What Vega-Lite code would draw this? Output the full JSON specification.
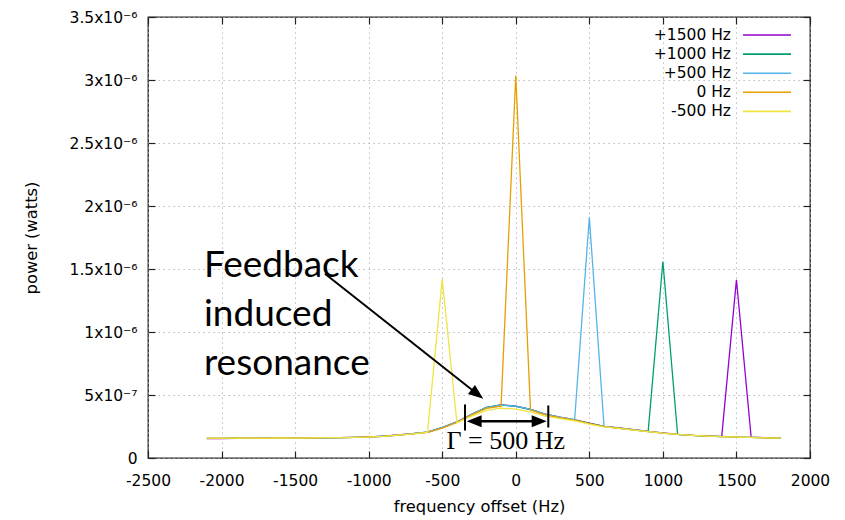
{
  "$schema": "https://vega.github.io/schema/vega-lite/v6.json",
  "width": 662,
  "height": 441,
  "autosize": {"type": "none"},
  "padding": {"left": 148, "top": 17, "right": 35, "bottom": 62},
  "background": "white",
  "config": {
    "font": "DejaVu Sans",
    "view": {"stroke": "#222", "strokeWidth": 1.3},
    "axis": {
      "labelFont": "DejaVu Sans", "labelFontSize": 15.5, "labelColor": "#000", "labelFlush": false, "labelOverlap": false,
      "titleFont": "DejaVu Sans", "titleFontSize": 16.3, "titleFontWeight": "normal", "titleColor": "#000",
      "tickColor": "#222", "tickWidth": 1.2, "tickSize": -7,
      "gridColor": "#aaaaaa", "gridDash": [1.2, 3.8], "gridWidth": 1, "domain": false
    }
  },
  "datasets": {
    "power": [
      {"s":"+1500 Hz","f":-2100,"p":1.53e-7},{"s":"+1500 Hz","f":-2000,"p":1.54e-7},{"s":"+1500 Hz","f":-1900,"p":1.55e-7},{"s":"+1500 Hz","f":-1800,"p":1.56e-7},{"s":"+1500 Hz","f":-1700,"p":1.57e-7},{"s":"+1500 Hz","f":-1600,"p":1.56e-7},{"s":"+1500 Hz","f":-1500,"p":1.58e-7},{"s":"+1500 Hz","f":-1400,"p":1.59e-7},{"s":"+1500 Hz","f":-1300,"p":1.59e-7},{"s":"+1500 Hz","f":-1200,"p":1.62e-7},{"s":"+1500 Hz","f":-1100,"p":1.64e-7},{"s":"+1500 Hz","f":-1000,"p":1.67e-7},{"s":"+1500 Hz","f":-900,"p":1.73e-7},{"s":"+1500 Hz","f":-800,"p":1.83e-7},{"s":"+1500 Hz","f":-700,"p":1.94e-7},{"s":"+1500 Hz","f":-600,"p":2.06e-7},{"s":"+1500 Hz","f":-500,"p":2.41e-7},{"s":"+1500 Hz","f":-400,"p":2.87e-7},{"s":"+1500 Hz","f":-300,"p":3.47e-7},{"s":"+1500 Hz","f":-200,"p":4.00e-7},{"s":"+1500 Hz","f":-100,"p":4.22e-7},{"s":"+1500 Hz","f":0,"p":4.12e-7},{"s":"+1500 Hz","f":100,"p":3.86e-7},{"s":"+1500 Hz","f":200,"p":3.48e-7},{"s":"+1500 Hz","f":300,"p":3.24e-7},{"s":"+1500 Hz","f":400,"p":3.03e-7},{"s":"+1500 Hz","f":500,"p":2.76e-7},{"s":"+1500 Hz","f":600,"p":2.51e-7},{"s":"+1500 Hz","f":700,"p":2.38e-7},{"s":"+1500 Hz","f":800,"p":2.25e-7},{"s":"+1500 Hz","f":900,"p":2.12e-7},{"s":"+1500 Hz","f":1000,"p":1.99e-7},{"s":"+1500 Hz","f":1100,"p":1.88e-7},{"s":"+1500 Hz","f":1200,"p":1.80e-7},{"s":"+1500 Hz","f":1300,"p":1.75e-7},{"s":"+1500 Hz","f":1400,"p":1.70e-7},{"s":"+1500 Hz","f":1500,"p":1.415e-6},{"s":"+1500 Hz","f":1600,"p":1.65e-7},{"s":"+1500 Hz","f":1700,"p":1.61e-7},{"s":"+1500 Hz","f":1800,"p":1.58e-7},
      {"s":"+1000 Hz","f":-2100,"p":1.56e-7},{"s":"+1000 Hz","f":-2000,"p":1.55e-7},{"s":"+1000 Hz","f":-1900,"p":1.57e-7},{"s":"+1000 Hz","f":-1800,"p":1.56e-7},{"s":"+1000 Hz","f":-1700,"p":1.57e-7},{"s":"+1000 Hz","f":-1600,"p":1.58e-7},{"s":"+1000 Hz","f":-1500,"p":1.57e-7},{"s":"+1000 Hz","f":-1400,"p":1.58e-7},{"s":"+1000 Hz","f":-1300,"p":1.61e-7},{"s":"+1000 Hz","f":-1200,"p":1.61e-7},{"s":"+1000 Hz","f":-1100,"p":1.64e-7},{"s":"+1000 Hz","f":-1000,"p":1.66e-7},{"s":"+1000 Hz","f":-900,"p":1.73e-7},{"s":"+1000 Hz","f":-800,"p":1.82e-7},{"s":"+1000 Hz","f":-700,"p":1.94e-7},{"s":"+1000 Hz","f":-600,"p":2.06e-7},{"s":"+1000 Hz","f":-500,"p":2.42e-7},{"s":"+1000 Hz","f":-400,"p":2.86e-7},{"s":"+1000 Hz","f":-300,"p":3.46e-7},{"s":"+1000 Hz","f":-200,"p":4.01e-7},{"s":"+1000 Hz","f":-100,"p":4.21e-7},{"s":"+1000 Hz","f":0,"p":4.10e-7},{"s":"+1000 Hz","f":100,"p":3.85e-7},{"s":"+1000 Hz","f":200,"p":3.47e-7},{"s":"+1000 Hz","f":300,"p":3.23e-7},{"s":"+1000 Hz","f":400,"p":3.03e-7},{"s":"+1000 Hz","f":500,"p":2.75e-7},{"s":"+1000 Hz","f":600,"p":2.51e-7},{"s":"+1000 Hz","f":700,"p":2.37e-7},{"s":"+1000 Hz","f":800,"p":2.24e-7},{"s":"+1000 Hz","f":900,"p":2.11e-7},{"s":"+1000 Hz","f":1000,"p":1.56e-6},{"s":"+1000 Hz","f":1100,"p":1.87e-7},{"s":"+1000 Hz","f":1200,"p":1.80e-7},{"s":"+1000 Hz","f":1300,"p":1.74e-7},{"s":"+1000 Hz","f":1400,"p":1.71e-7},{"s":"+1000 Hz","f":1500,"p":1.66e-7},{"s":"+1000 Hz","f":1600,"p":1.64e-7},{"s":"+1000 Hz","f":1700,"p":1.61e-7},{"s":"+1000 Hz","f":1800,"p":1.57e-7},
      {"s":"+500 Hz","f":-2100,"p":1.55e-7},{"s":"+500 Hz","f":-2000,"p":1.56e-7},{"s":"+500 Hz","f":-1900,"p":1.56e-7},{"s":"+500 Hz","f":-1800,"p":1.57e-7},{"s":"+500 Hz","f":-1700,"p":1.58e-7},{"s":"+500 Hz","f":-1600,"p":1.57e-7},{"s":"+500 Hz","f":-1500,"p":1.58e-7},{"s":"+500 Hz","f":-1400,"p":1.59e-7},{"s":"+500 Hz","f":-1300,"p":1.60e-7},{"s":"+500 Hz","f":-1200,"p":1.62e-7},{"s":"+500 Hz","f":-1100,"p":1.63e-7},{"s":"+500 Hz","f":-1000,"p":1.67e-7},{"s":"+500 Hz","f":-900,"p":1.72e-7},{"s":"+500 Hz","f":-800,"p":1.82e-7},{"s":"+500 Hz","f":-700,"p":1.93e-7},{"s":"+500 Hz","f":-600,"p":2.05e-7},{"s":"+500 Hz","f":-500,"p":2.41e-7},{"s":"+500 Hz","f":-400,"p":2.86e-7},{"s":"+500 Hz","f":-300,"p":3.46e-7},{"s":"+500 Hz","f":-200,"p":3.99e-7},{"s":"+500 Hz","f":-100,"p":4.20e-7},{"s":"+500 Hz","f":0,"p":4.11e-7},{"s":"+500 Hz","f":100,"p":3.86e-7},{"s":"+500 Hz","f":200,"p":3.48e-7},{"s":"+500 Hz","f":300,"p":3.25e-7},{"s":"+500 Hz","f":400,"p":3.04e-7},{"s":"+500 Hz","f":500,"p":1.91e-6},{"s":"+500 Hz","f":600,"p":2.50e-7},{"s":"+500 Hz","f":700,"p":2.38e-7},{"s":"+500 Hz","f":800,"p":2.25e-7},{"s":"+500 Hz","f":900,"p":2.12e-7},{"s":"+500 Hz","f":1000,"p":1.98e-7},{"s":"+500 Hz","f":1100,"p":1.88e-7},{"s":"+500 Hz","f":1200,"p":1.79e-7},{"s":"+500 Hz","f":1300,"p":1.74e-7},{"s":"+500 Hz","f":1400,"p":1.70e-7},{"s":"+500 Hz","f":1500,"p":1.67e-7},{"s":"+500 Hz","f":1600,"p":1.64e-7},{"s":"+500 Hz","f":1700,"p":1.60e-7},{"s":"+500 Hz","f":1800,"p":1.58e-7},
      {"s":"0 Hz","f":-2100,"p":1.56e-7},{"s":"0 Hz","f":-2000,"p":1.56e-7},{"s":"0 Hz","f":-1900,"p":1.57e-7},{"s":"0 Hz","f":-1800,"p":1.57e-7},{"s":"0 Hz","f":-1700,"p":1.56e-7},{"s":"0 Hz","f":-1600,"p":1.58e-7},{"s":"0 Hz","f":-1500,"p":1.57e-7},{"s":"0 Hz","f":-1400,"p":1.58e-7},{"s":"0 Hz","f":-1300,"p":1.61e-7},{"s":"0 Hz","f":-1200,"p":1.62e-7},{"s":"0 Hz","f":-1100,"p":1.63e-7},{"s":"0 Hz","f":-1000,"p":1.67e-7},{"s":"0 Hz","f":-900,"p":1.72e-7},{"s":"0 Hz","f":-800,"p":1.82e-7},{"s":"0 Hz","f":-700,"p":1.92e-7},{"s":"0 Hz","f":-600,"p":2.04e-7},{"s":"0 Hz","f":-500,"p":2.38e-7},{"s":"0 Hz","f":-400,"p":2.83e-7},{"s":"0 Hz","f":-300,"p":3.42e-7},{"s":"0 Hz","f":-200,"p":3.93e-7},{"s":"0 Hz","f":-100,"p":4.12e-7},{"s":"0 Hz","f":0,"p":3.035e-6},{"s":"0 Hz","f":100,"p":3.80e-7},{"s":"0 Hz","f":200,"p":3.42e-7},{"s":"0 Hz","f":300,"p":3.20e-7},{"s":"0 Hz","f":400,"p":3.00e-7},{"s":"0 Hz","f":500,"p":2.72e-7},{"s":"0 Hz","f":600,"p":2.49e-7},{"s":"0 Hz","f":700,"p":2.36e-7},{"s":"0 Hz","f":800,"p":2.23e-7},{"s":"0 Hz","f":900,"p":2.10e-7},{"s":"0 Hz","f":1000,"p":1.97e-7},{"s":"0 Hz","f":1100,"p":1.87e-7},{"s":"0 Hz","f":1200,"p":1.79e-7},{"s":"0 Hz","f":1300,"p":1.73e-7},{"s":"0 Hz","f":1400,"p":1.69e-7},{"s":"0 Hz","f":1500,"p":1.66e-7},{"s":"0 Hz","f":1600,"p":1.63e-7},{"s":"0 Hz","f":1700,"p":1.60e-7},{"s":"0 Hz","f":1800,"p":1.57e-7},
      {"s":"-500 Hz","f":-2100,"p":1.57e-7},{"s":"-500 Hz","f":-2000,"p":1.57e-7},{"s":"-500 Hz","f":-1900,"p":1.58e-7},{"s":"-500 Hz","f":-1800,"p":1.58e-7},{"s":"-500 Hz","f":-1700,"p":1.57e-7},{"s":"-500 Hz","f":-1600,"p":1.59e-7},{"s":"-500 Hz","f":-1500,"p":1.58e-7},{"s":"-500 Hz","f":-1400,"p":1.59e-7},{"s":"-500 Hz","f":-1300,"p":1.61e-7},{"s":"-500 Hz","f":-1200,"p":1.62e-7},{"s":"-500 Hz","f":-1100,"p":1.64e-7},{"s":"-500 Hz","f":-1000,"p":1.66e-7},{"s":"-500 Hz","f":-900,"p":1.71e-7},{"s":"-500 Hz","f":-800,"p":1.81e-7},{"s":"-500 Hz","f":-700,"p":1.91e-7},{"s":"-500 Hz","f":-600,"p":2.04e-7},{"s":"-500 Hz","f":-500,"p":1.42e-6},{"s":"-500 Hz","f":-400,"p":2.80e-7},{"s":"-500 Hz","f":-300,"p":3.32e-7},{"s":"-500 Hz","f":-200,"p":3.78e-7},{"s":"-500 Hz","f":-100,"p":3.95e-7},{"s":"-500 Hz","f":0,"p":3.88e-7},{"s":"-500 Hz","f":100,"p":3.66e-7},{"s":"-500 Hz","f":200,"p":3.33e-7},{"s":"-500 Hz","f":300,"p":3.13e-7},{"s":"-500 Hz","f":400,"p":2.95e-7},{"s":"-500 Hz","f":500,"p":2.69e-7},{"s":"-500 Hz","f":600,"p":2.47e-7},{"s":"-500 Hz","f":700,"p":2.35e-7},{"s":"-500 Hz","f":800,"p":2.22e-7},{"s":"-500 Hz","f":900,"p":2.10e-7},{"s":"-500 Hz","f":1000,"p":1.97e-7},{"s":"-500 Hz","f":1100,"p":1.87e-7},{"s":"-500 Hz","f":1200,"p":1.79e-7},{"s":"-500 Hz","f":1300,"p":1.73e-7},{"s":"-500 Hz","f":1400,"p":1.69e-7},{"s":"-500 Hz","f":1500,"p":1.66e-7},{"s":"-500 Hz","f":1600,"p":1.63e-7},{"s":"-500 Hz","f":1700,"p":1.60e-7},{"s":"-500 Hz","f":1800,"p":1.58e-7}
    ]
  },
  "layer": [
    {
      "data": {"name": "power"},
      "mark": {"type": "line", "strokeWidth": 1.3},
      "encoding": {
        "x": {
          "field": "f", "type": "quantitative",
          "scale": {"domain": [-2500, 2000], "nice": false, "zero": false},
          "axis": {"orient": "bottom", "values": [-2500, -2000, -1500, -1000, -500, 0, 500, 1000, 1500, 2000], "labelExpr": "'' + datum.value", "grid": true, "labelPadding": 22, "title": "frequency offset (Hz)", "titlePadding": 10}
        },
        "y": {
          "field": "p", "type": "quantitative",
          "scale": {"domain": [0, 3.5e-6], "nice": false},
          "axis": {"orient": "left", "values": [0, 5e-7, 1e-6, 1.5e-6, 2e-6, 2.5e-6, 3e-6, 3.5e-6], "grid": true, "labelPadding": 18,
            "labelExpr": "datum.value == 0 ? '0' : (datum.value < 9.9e-7 ? format(datum.value*1e7, '.2~f') + 'x10⁻⁷' : format(datum.value*1e6, '.2~f') + 'x10⁻⁶')",
            "title": "power (watts)", "titlePadding": 30}
        },
        "color": {
          "field": "s", "type": "nominal",
          "scale": {"domain": ["+1500 Hz", "+1000 Hz", "+500 Hz", "0 Hz", "-500 Hz"], "range": ["#9400d3", "#009e73", "#56b4e9", "#e69f00", "#f0e442"]},
          "legend": {"title": null, "orient": "none", "legendX": 610, "legendY": 9, "padding": 0, "symbolType": "M-3,0 L3,0", "symbolSize": 256, "symbolStrokeWidth": 1.6, "labelAlign": "right", "labelOffset": -45, "labelFont": "DejaVu Sans", "labelFontSize": 15.5, "labelColor": "#000", "rowPadding": 1.1}
        }
      }
    },
    {
      "data": {"name": "power"},
      "mark": {"type": "line", "opacity": 0},
      "encoding": {
        "x": {"field": "f", "type": "quantitative", "axis": {"orient": "top", "values": [-2500, -2000, -1500, -1000, -500, 0, 500, 1000, 1500, 2000], "labels": false, "grid": false, "title": null}},
        "y": {"field": "p", "type": "quantitative", "axis": {"orient": "right", "values": [0, 5e-7, 1e-6, 1.5e-6, 2e-6, 2.5e-6, 3e-6, 3.5e-6], "labels": false, "grid": false, "title": null}}
      }
    },
    {
      "data": {"values": [{}]},
      "mark": {"type": "text", "font": "Lato", "fontSize": 37, "align": "left", "baseline": "alphabetic", "lineHeight": 49, "color": "#000", "text": ["Feedback", "induced", "resonance"]},
      "encoding": {
        "x": {"datum": -2120, "type": "quantitative", "axis": null},
        "y": {"datum": 1.434e-6, "type": "quantitative", "axis": null}
      }
    },
    {
      "data": {"values": [{}]},
      "mark": {"type": "rule", "color": "#000", "strokeWidth": 2},
      "encoding": {
        "x": {"datum": -1297, "type": "quantitative", "axis": null},
        "y": {"datum": 1.462e-6, "type": "quantitative", "axis": null},
        "x2": {"datum": -264},
        "y2": {"datum": 5.1e-7}
      }
    },
    {
      "data": {"values": [{}]},
      "mark": {"type": "point", "shape": "M0,0 L-2,-0.75 L-2,0.75 Z", "size": 225, "filled": true, "color": "#000", "opacity": 1, "angle": 38.3, "strokeWidth": 0},
      "encoding": {
        "x": {"datum": -221, "type": "quantitative", "axis": null},
        "y": {"datum": 4.7e-7, "type": "quantitative", "axis": null}
      }
    },
    {
      "data": {"values": [{}]},
      "mark": {"type": "rule", "color": "#000", "strokeWidth": 2},
      "encoding": {
        "x": {"datum": -345, "type": "quantitative", "axis": null},
        "y": {"datum": 4.25e-7, "type": "quantitative", "axis": null},
        "y2": {"datum": 2.18e-7}
      }
    },
    {
      "data": {"values": [{}]},
      "mark": {"type": "rule", "color": "#000", "strokeWidth": 2},
      "encoding": {
        "x": {"datum": 221, "type": "quantitative", "axis": null},
        "y": {"datum": 4.17e-7, "type": "quantitative", "axis": null},
        "y2": {"datum": 2.42e-7}
      }
    },
    {
      "data": {"values": [{}]},
      "mark": {"type": "rule", "color": "#000", "strokeWidth": 2.5},
      "encoding": {
        "x": {"datum": -290, "type": "quantitative", "axis": null},
        "x2": {"datum": 170},
        "y": {"datum": 2.92e-7, "type": "quantitative", "axis": null}
      }
    },
    {
      "data": {"values": [{}]},
      "mark": {"type": "point", "shape": "M0,0 L-2,-0.8 L-2,0.8 Z", "size": 225, "filled": true, "color": "#000", "opacity": 1, "angle": 0, "strokeWidth": 0},
      "encoding": {
        "x": {"datum": 210, "type": "quantitative", "axis": null},
        "y": {"datum": 2.92e-7, "type": "quantitative", "axis": null}
      }
    },
    {
      "data": {"values": [{}]},
      "mark": {"type": "point", "shape": "M0,0 L-2,-0.8 L-2,0.8 Z", "size": 225, "filled": true, "color": "#000", "opacity": 1, "angle": 180, "strokeWidth": 0},
      "encoding": {
        "x": {"datum": -334, "type": "quantitative", "axis": null},
        "y": {"datum": 2.92e-7, "type": "quantitative", "axis": null}
      }
    },
    {
      "data": {"values": [{}]},
      "mark": {"type": "text", "font": "Liberation Serif", "fontSize": 26, "align": "center", "baseline": "alphabetic", "color": "#000", "text": "Γ = 500 Hz"},
      "encoding": {
        "x": {"datum": -68, "type": "quantitative", "axis": null},
        "y": {"datum": 7.3e-8, "type": "quantitative", "axis": null}
      }
    }
  ],
  "resolve": {"axis": {"x": "independent", "y": "independent"}}
}
